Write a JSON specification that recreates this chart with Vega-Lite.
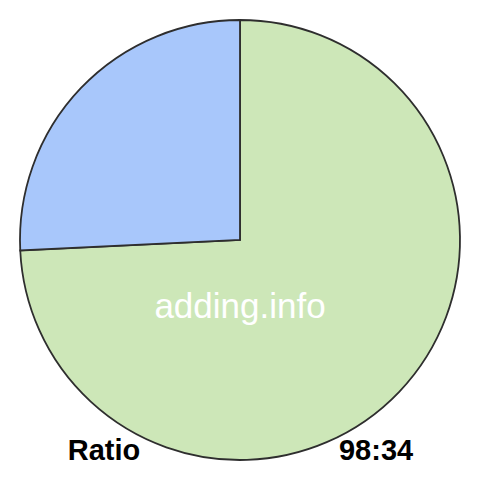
{
  "$schema": "https://vega.github.io/schema/vega-lite/v6.json",
  "width": 480,
  "height": 480,
  "autosize": {"type": "fit", "contains": "padding"},
  "padding": 0,
  "background": "white",
  "config": {"view": {"stroke": null}},
  "layer": [
    {
      "data": {"values": [
        {"part": "first", "value": 98},
        {"part": "second", "value": 34}
      ]},
      "mark": {"type": "arc", "outerRadius": 220, "stroke": "#2e2e2e", "strokeWidth": 1.8, "strokeJoin": "miter"},
      "encoding": {
        "theta": {"field": "value", "type": "quantitative", "stack": true},
        "order": {"field": "part", "sort": "ascending"},
        "color": {
          "field": "part", "type": "nominal",
          "scale": {"domain": ["first", "second"], "range": ["#cde7b8", "#a8c7fb"]},
          "legend": null
        }
      }
    },
    {
      "data": {"values": [{"label": "adding.info"}]},
      "mark": {"type": "text", "font": "Liberation Sans", "fontSize": 35, "color": "white", "baseline": "alphabetic", "align": "center", "dy": 78},
      "encoding": {"text": {"field": "label"}}
    },
    {
      "data": {"values": [
        {"label": "Ratio", "side": "left"},
        {"label": "98:34", "side": "right"}
      ]},
      "mark": {"type": "text", "font": "Liberation Sans", "fontSize": 29, "fontWeight": "bold", "color": "black", "baseline": "alphabetic", "align": "center", "dy": 220},
      "encoding": {
        "x": {"field": "side", "type": "nominal", "scale": {"type": "point", "domain": ["left", "right"], "padding": 0.382}, "axis": null},
        "text": {"field": "label"}
      }
    }
  ]
}
